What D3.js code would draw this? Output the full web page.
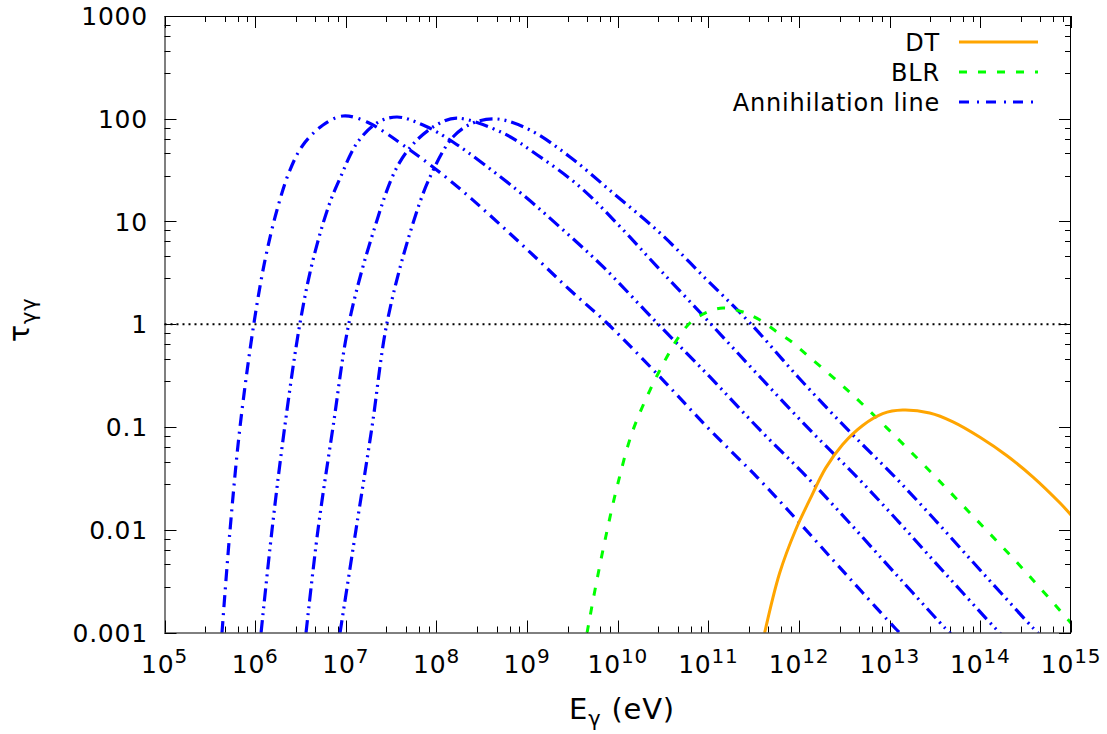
<!DOCTYPE html>
<html>
<head>
<meta charset="utf-8">
<script src="https://cdn.jsdelivr.net/npm/d3@7"></script>
<style>
  html, body { margin: 0; padding: 0; background: #fff; }
  svg { display: block; font-family: "DejaVu Sans", sans-serif; }
  svg text { letter-spacing: 0.8px; }
</style>
</head>
<body>
<svg id="chart" width="1107" height="734"></svg>
<script>
// Optical depth for gamma-gamma pair production versus photon energy.
// All series are stored as log10 values (energy in eV, dimensionless tau).

// Annihilation-line photon fields (four cases)
const annih1LogE   = [5.634, 5.723, 5.833, 5.987, 6.109, 6.241, 6.384, 6.528, 6.749, 6.969, 7.234, 7.708, 8.182, 8.623, 9.065, 9.473, 9.881, 10.466, 11.017, 11.536, 11.977, 12.374, 12.705, 13.058, 13.146];
const annih1LogTau = [-3.005, -2.002, -1.000, 0.012, 0.625, 1.112, 1.501, 1.745, 1.939, 2.027, 1.968, 1.696, 1.375, 1.034, 0.674, 0.333, 0.012, -0.513, -1.029, -1.487, -1.905, -2.294, -2.616, -2.956, -3.034];

const annih2LogE   = [6.065, 6.186, 6.329, 6.495, 6.638, 6.815, 6.936, 7.124, 7.344, 7.565, 7.852, 8.182, 8.888, 9.362, 9.837, 10.433, 11.017, 11.569, 12.087, 12.528, 12.926, 13.257, 13.610, 13.698];
const annih2LogTau = [-3.005, -2.002, -0.981, 0.012, 0.625, 1.161, 1.420, 1.764, 1.959, 2.017, 1.939, 1.774, 1.307, 0.946, 0.560, 0.012, -0.513, -1.029, -1.487, -1.905, -2.294, -2.616, -2.956, -3.034];

const annih3LogE   = [6.561, 6.693, 6.859, 7.035, 7.300, 7.565, 7.785, 8.039, 8.227, 8.734, 9.109, 9.584, 10.025, 10.466, 11.017, 11.569, 12.120, 12.639, 13.080, 13.477, 13.808, 14.161, 14.249];
const annih3LogTau = [-3.005, -2.002, -1.000, 0.012, 0.888, 1.530, 1.793, 1.959, 2.007, 1.861, 1.650, 1.336, 0.950, 0.530, 0.012, -0.513, -1.029, -1.487, -1.905, -2.294, -2.616, -2.956, -3.034];

const annih4LogE   = [6.936, 7.112, 7.289, 7.454, 7.708, 7.929, 8.182, 8.403, 8.668, 9.032, 9.473, 9.948, 10.466, 10.963, 11.459, 11.989, 12.540, 13.058, 13.500, 13.897, 14.228, 14.581, 14.669];
const annih4LogTau = [-3.005, -2.002, -1.000, 0.012, 0.888, 1.433, 1.822, 1.959, 1.998, 1.891, 1.628, 1.277, 0.888, 0.450, 0.012, -0.513, -1.029, -1.487, -1.905, -2.294, -2.616, -2.956, -3.034];

// Broad line region
const blrLogE   = [9.661, 9.749, 9.860, 9.992, 10.157, 10.356, 10.466, 10.554, 10.665, 10.797, 10.963, 11.161, 11.382, 11.569, 11.757, 11.922, 12.011, 12.562, 13.301, 13.886, 14.471, 15.000];
const blrLogTau = [-3.005, -2.586, -2.100, -1.584, -1.058, -0.640, -0.445, -0.299, -0.134, 0.012, 0.109, 0.158, 0.119, 0.041, -0.075, -0.173, -0.241, -0.664, -1.302, -1.837, -2.382, -2.908];

// Dusty torus
const dtLogE   = [11.620, 11.786, 11.962, 12.117, 12.293, 12.481, 12.702, 12.923, 13.143, 13.441, 13.698, 13.996, 14.294, 14.581, 14.879, 15.000];
const dtLogTau = [-3.005, -2.421, -2.002, -1.710, -1.400, -1.170, -0.985, -0.870, -0.835, -0.864, -0.950, -1.100, -1.280, -1.487, -1.740, -1.856];

// Axis ticks
const xMajorExponents = [5, 6, 7, 8, 9, 10, 11, 12, 13, 14, 15];
const yMajorTicks = [0.001, 0.01, 0.1, 1, 10, 100, 1000];
const yTickLabels = ["0.001", "0.01", "0.1", "1", "10", "100", "1000"];
const minorMultipliers = [2.8, 4.6, 6.4, 8.2];

const legendLabels = ["DT", "BLR", "Annihilation line"];

const svg = d3.select("#chart");
const plot = { left: 164.5, right: 1071, top: 16, bottom: 632.5 };

const x = d3.scaleLog().domain([1e5, 1e15]).range([plot.left, plot.right]);
const y = d3.scaleLog().domain([1e-3, 1e3]).range([plot.bottom, plot.top]);

svg.append("defs").append("clipPath").attr("id", "plotClip")
  .append("rect")
  .attr("x", plot.left).attr("y", plot.top)
  .attr("width", plot.right - plot.left).attr("height", plot.bottom - plot.top);

// Ticks on all four sides, pointing inward
const tickG = svg.append("g").attr("stroke", "#000").attr("stroke-width", 1);
const majorLen = 12, minorLen = 6;
const xMinor = [], yMinor = [];
for (let k = 5; k < 15; k++) minorMultipliers.forEach(m => xMinor.push(m * Math.pow(10, k)));
for (let k = -3; k < 3; k++) minorMultipliers.forEach(m => yMinor.push(m * Math.pow(10, k)));

function xTicks(values, len) {
  values.forEach(v => {
    const px = Math.round(x(v)) + 0.5;
    tickG.append("line").attr("x1", px).attr("x2", px).attr("y1", plot.bottom).attr("y2", plot.bottom - len);
    tickG.append("line").attr("x1", px).attr("x2", px).attr("y1", plot.top).attr("y2", plot.top + len);
  });
}
function yTicks(values, len) {
  values.forEach(v => {
    const py = Math.round(y(v)) + 0.5;
    tickG.append("line").attr("y1", py).attr("y2", py).attr("x1", plot.left).attr("x2", plot.left + len);
    tickG.append("line").attr("y1", py).attr("y2", py).attr("x1", plot.right).attr("x2", plot.right - len);
  });
}
xTicks(xMajorExponents.map(e => Math.pow(10, e)), majorLen);
xTicks(xMinor, minorLen);
yTicks(yMajorTicks, majorLen);
yTicks(yMinor, minorLen);

// Reference line at tau = 1
svg.append("line")
  .attr("x1", plot.left).attr("x2", plot.right)
  .attr("y1", y(1)).attr("y2", y(1))
  .attr("stroke", "#000").attr("stroke-width", 2)
  .attr("stroke-dasharray", "2,4");

// Curves
const line = d3.line()
  .x(d => x(Math.pow(10, d[0])))
  .y(d => y(Math.pow(10, d[1])))
  .curve(d3.curveCatmullRom.alpha(0.5));

const series = [
  { e: annih1LogE, t: annih1LogTau, color: "#0000ff", dash: "12,6,2,6", w: 3.2 },
  { e: annih2LogE, t: annih2LogTau, color: "#0000ff", dash: "13,5,2,5,2,5", w: 3.2 },
  { e: annih3LogE, t: annih3LogTau, color: "#0000ff", dash: "13,5,2,5,2,5", w: 3.2 },
  { e: annih4LogE, t: annih4LogTau, color: "#0000ff", dash: "13,5,2,5,2,5", w: 3.2 },
  { e: blrLogE, t: blrLogTau, color: "#00ff00", dash: "8,11", w: 3 },
  { e: dtLogE, t: dtLogTau, color: "#ffa500", dash: null, w: 3 }
];

const curves = svg.append("g").attr("clip-path", "url(#plotClip)");
series.forEach(s => {
  curves.append("path")
    .datum(d3.zip(s.e, s.t))
    .attr("d", line)
    .attr("fill", "none")
    .attr("stroke", s.color)
    .attr("stroke-width", s.w)
    .attr("stroke-dasharray", s.dash);
});

// Frame
svg.append("rect")
  .attr("x", plot.left + 0.5).attr("y", plot.top + 0.5)
  .attr("width", plot.right - plot.left - 1).attr("height", plot.bottom - plot.top)
  .attr("fill", "none").attr("stroke", "#000").attr("stroke-width", 1);

// Y tick labels
svg.append("g").selectAll("text")
  .data(yMajorTicks)
  .join("text")
  .attr("x", 148)
  .attr("y", d => y(d) + 9)
  .attr("text-anchor", "end")
  .attr("font-size", 25)
  .attr("fill", "#000")
  .text((d, i) => yTickLabels[i]);

// X tick labels: 10 with a superscript exponent
const xl = svg.append("g").selectAll("text")
  .data(xMajorExponents)
  .join("text")
  .attr("x", d => x(Math.pow(10, d)))
  .attr("y", 673)
  .attr("text-anchor", "middle")
  .attr("font-size", 25)
  .attr("fill", "#000");
xl.append("tspan").text("10");
xl.append("tspan").attr("dy", -10).attr("font-size", 20).text(d => d);

// Axis titles
const xt = svg.append("text")
  .attr("x", 622).attr("y", 719)
  .attr("text-anchor", "middle")
  .attr("font-size", 29)
  .attr("fill", "#000");
xt.append("tspan").text("E");
xt.append("tspan").attr("dy", 7).attr("font-size", 21).text("γ");
xt.append("tspan").attr("dy", -7).text(" (eV)");

const yt = svg.append("text")
  .attr("transform", "translate(29,320) rotate(-90)")
  .attr("text-anchor", "middle")
  .attr("font-size", 29)
  .attr("fill", "#000");
yt.append("tspan").text("τ");
yt.append("tspan").attr("dy", 7).attr("font-size", 21).text("γγ");

// Legend
const legendStyles = [
  { color: "#ffa500", dash: null },
  { color: "#00ff00", dash: "8,11" },
  { color: "#0000ff", dash: "10,8,2,7" }
];
const legend = svg.append("g");
legendLabels.forEach((label, i) => {
  const cy = 42 + i * 30;
  legend.append("text")
    .attr("x", 940).attr("y", cy + 9)
    .attr("text-anchor", "end")
    .attr("font-size", 24)
    .attr("fill", "#000")
    .text(label);
  legend.append("line")
    .attr("x1", 959).attr("x2", 1038)
    .attr("y1", cy).attr("y2", cy)
    .attr("stroke", legendStyles[i].color)
    .attr("stroke-width", 3)
    .attr("stroke-dasharray", legendStyles[i].dash);
});
</script>
</body>
</html>
